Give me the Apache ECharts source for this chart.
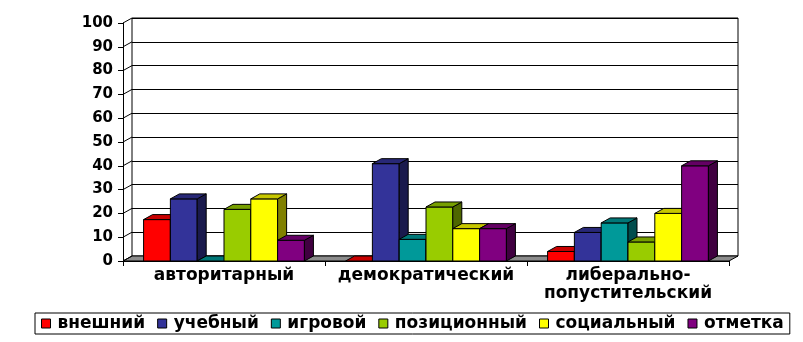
<!DOCTYPE html>
<html>
<head>
<meta charset="utf-8">
<script src="https://cdn.jsdelivr.net/npm/echarts@6/dist/echarts.min.js"></script>
<style>html,body{margin:0;padding:0;background:#fff}#c{width:803px;height:342px}</style>
</head>
<body>
<div id="c"></div>
<script>
var categories = ['авторитарный', 'демократический', 'либерально-\nпопустительский'];
var seriesNames = ['внешний', 'учебный', 'игровой', 'позиционный', 'социальный', 'отметка'];
var vneshniy   = [17.4, 0,    4];
var uchebnyy   = [26.1, 40.9, 12];
var igrovoy    = [0,    9.1,  16];
var pozitsion  = [21.7, 22.7, 8];
var sotsialnyy = [26.1, 13.6, 20];
var otmetka    = [8.7,  13.6, 40];
var yTicks = [0, 10, 20, 30, 40, 50, 60, 70, 80, 90, 100];

var seriesValues = [vneshniy, uchebnyy, igrovoy, pozitsion, sotsialnyy, otmetka];
var colors = ['#FF0000', '#333399', '#009999', '#99CC00', '#FFFF00', '#800080'];
var DX = 9, DY = -5;
var FONT = 'DejaVu Sans';

function shade(hex, f) {
  var r = parseInt(hex.substr(1,2),16), g = parseInt(hex.substr(3,2),16), b = parseInt(hex.substr(5,2),16);
  return 'rgb(' + Math.round(r*f) + ',' + Math.round(g*f) + ',' + Math.round(b*f) + ')';
}

function barRenderer(si) {
  return function (params, api) {
    var idx = api.value(0), v = api.value(1);
    var base = api.coord([idx, 0]);
    var top = api.coord([idx, v]);
    var cw = api.size([1, 0])[0];
    var bw = cw * 0.1327;
    var x0 = base[0] - 3 * bw + si * bw;
    var x1 = x0 + bw;
    var y0 = base[1], yt = top[1];
    var c = colors[si];
    var children = [];
    if (v > 0) {
      children.push({type: 'rect', shape: {x: x0, y: yt, width: bw, height: y0 - yt},
        style: {fill: c, stroke: '#000', lineWidth: 1}});
      children.push({type: 'polygon', shape: {points: [[x1, yt], [x1 + DX, yt + DY], [x1 + DX, y0 + DY], [x1, y0]]},
        style: {fill: shade(c, 0.5), stroke: '#000', lineWidth: 1}});
    }
    children.push({type: 'polygon', shape: {points: [[x0, yt], [x0 + DX, yt + DY], [x1 + DX, yt + DY], [x1, yt]]},
      style: {fill: shade(c, 0.78), stroke: '#000', lineWidth: 1}});
    return {type: 'group', children: children};
  };
}

var series = [];
// floor
series.push({
  type: 'custom', name: '_floor', xAxisIndex: 0, yAxisIndex: 0, z: 1, silent: true,
  data: [[0, 0]],
  renderItem: function (params, api) {
    var cs = params.coordSys;
    var yb = api.coord([0, 0])[1];
    return {type: 'polygon', shape: {points: [[cs.x, yb], [cs.x + cs.width, yb], [cs.x + cs.width + DX, yb + DY], [cs.x + DX, yb + DY]]},
      style: {fill: '#8C8C8C', stroke: '#000', lineWidth: 1}};
  }
});
// side wall connectors
series.push({
  type: 'custom', name: '_wall', xAxisIndex: 0, yAxisIndex: 0, z: 1, silent: true,
  data: yTicks.map(function (t) { return [0, t]; }),
  renderItem: function (params, api) {
    var cs = params.coordSys;
    var y = api.coord([0, api.value(1)])[1];
    return {type: 'line', shape: {x1: cs.x, y1: y, x2: cs.x + DX, y2: y + DY}, style: {stroke: '#000', lineWidth: 1}};
  }
});
seriesNames.forEach(function (n, si) {
  series.push({
    type: 'custom', name: n, xAxisIndex: 0, yAxisIndex: 0, z: 3,
    itemStyle: {color: colors[si], borderColor: '#000', borderWidth: 1},
    data: seriesValues[si].map(function (v, i) { return [i, v]; }),
    renderItem: barRenderer(si)
  });
});

var chart = echarts.init(document.getElementById('c'), null, {renderer: 'canvas'});
chart.setOption({
  backgroundColor: '#fff',
  animation: false,
  grid: [
    {left: 123, right: 74, top: 23, bottom: 81, show: false},
    {left: 132, right: 65, top: 18, bottom: 86, show: true, borderColor: '#000', borderWidth: 1, backgroundColor: '#fff', z: 0}
  ],
  xAxis: [
    {type: 'category', gridIndex: 0, data: categories, z: 5,
      axisLine: {show: true, lineStyle: {color: '#000', width: 1}},
      axisTick: {show: true, length: 5, inside: false, alignWithLabel: false, lineStyle: {color: '#000'}},
      axisLabel: {color: '#000', fontFamily: FONT, fontWeight: 'bold', fontSize: 17, margin: 6, lineHeight: 18, interval: 0},
      splitLine: {show: false}},
    {type: 'category', gridIndex: 1, data: categories, show: false}
  ],
  yAxis: [
    {type: 'value', gridIndex: 0, min: 0, max: 100, interval: 10, z: 5,
      axisLine: {show: true, lineStyle: {color: '#000', width: 1}},
      axisTick: {show: true, length: 5, lineStyle: {color: '#000'}},
      axisLabel: {color: '#000', fontFamily: FONT, fontWeight: 'bold', fontSize: 15, margin: 10},
      splitLine: {show: false}},
    {type: 'value', gridIndex: 1, min: 0, max: 100, interval: 10,
      axisLine: {show: false}, axisTick: {show: false}, axisLabel: {show: false},
      splitLine: {show: true, lineStyle: {color: '#000', width: 1}}}
  ],
  legend: {
    data: seriesNames,
    left: 35, top: 313,
    orient: 'horizontal',
    borderColor: '#000', borderWidth: 1,
    padding: [2, 6, 2, 6],
    itemWidth: 9, itemHeight: 9, itemGap: 12,
    icon: 'rect',
    itemStyle: {borderColor: '#000', borderWidth: 1},
    textStyle: {color: '#000', fontFamily: FONT, fontWeight: 'bold', fontSize: 17, padding: [0, 0, 0, 2]}
  },
  series: series
});
</script>
</body>
</html>
